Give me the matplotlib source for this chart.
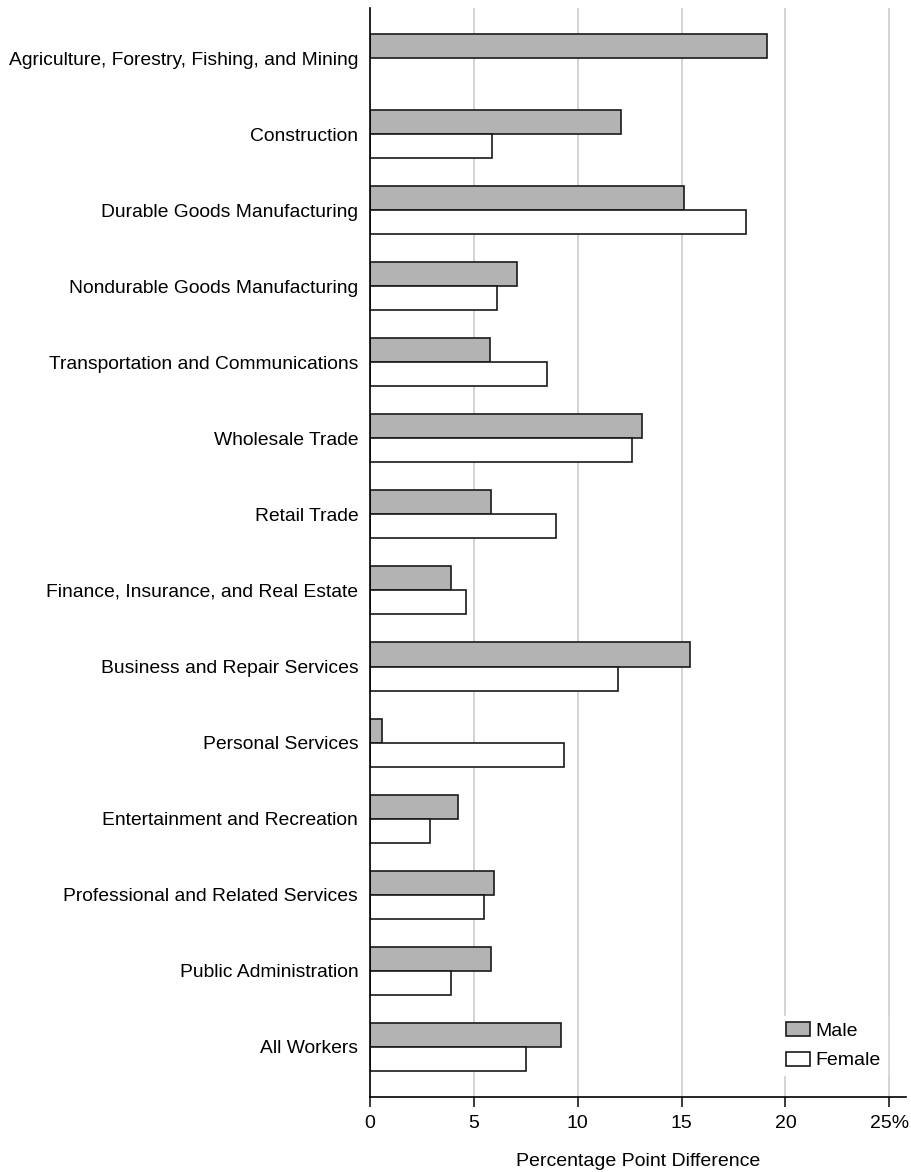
import matplotlib
matplotlib.use('Agg')
import matplotlib.pyplot as plt
import numpy as np
from matplotlib.patches import Patch

# Datos
industries = [
    'Agriculture, Forestry, Fishing, and Mining',
    'Construction',
    'Durable Goods Manufacturing',
    'Nondurable Goods Manufacturing',
    'Transportation and Communications',
    'Wholesale Trade',
    'Retail Trade',
    'Finance, Insurance, and Real Estate',
    'Business and Repair Services',
    'Personal Services',
    'Entertainment and Recreation',
    'Professional and Related Services',
    'Public Administration',
    'All Workers',
]
male = [19.12, 12.10, 15.13, 7.06, 5.78, 13.11, 5.81, 3.91, 15.42, 0.56, 4.26, 5.97, 5.82, 9.17]
female = [np.nan, 5.88, 18.08, 6.10, 8.53, 12.62, 8.95, 4.60, 11.96, 9.34, 2.91, 5.51, 3.89, 7.51]
xticks = [0, 5, 10, 15, 20, 25]
xtick_labels = ['0', '5', '10', '15', '20', '25%']

plt.rcParams['font.family'] = ['Liberation Sans', 'DejaVu Sans']

fig = plt.figure(figsize=(9.12, 11.72), dpi=100)
ax = fig.add_axes([0.4057, 0.064, 0.5877, 0.9293])

y = np.arange(len(industries))
h = 0.316
ax.barh(y - h / 2, male, height=h, color='#b3b3b3', edgecolor='#1a1a1a', linewidth=1.2, zorder=3)
ax.barh(y + h / 2, female, height=h, color='white', edgecolor='#1a1a1a', linewidth=1.2, zorder=3)

ax.set_ylim(len(industries) - 1 + 0.66, -0.66)
ax.set_xlim(0, 25.8)
ax.set_yticks(y)
ax.set_yticklabels(industries, fontsize=13.9)
ax.set_xticks(xticks)
ax.set_xticklabels(xtick_labels, fontsize=14)
ax.tick_params(axis='y', length=0, pad=8.5)
ax.tick_params(axis='x', length=7, width=1.2, pad=6, color='#1a1a1a')
ax.xaxis.grid(True, color='#cccccc', linewidth=1.2, zorder=0)
ax.set_axisbelow(True)
for s in ['top', 'right']:
    ax.spines[s].set_visible(False)
ax.spines['left'].set_linewidth(1.2)
ax.spines['bottom'].set_linewidth(1.2)
ax.spines['left'].set_zorder(4)
ax.set_xlabel('Percentage Point Difference', fontsize=14, labelpad=15)

handles = [Patch(facecolor='#b3b3b3', edgecolor='#1a1a1a', linewidth=1.2, label='Male'),
           Patch(facecolor='white', edgecolor='#1a1a1a', linewidth=1.2, label='Female')]
leg = ax.legend(handles=handles, loc='lower left', bbox_to_anchor=(0.765, 0.02),
                frameon=True, fontsize=14, handlelength=1.24, handleheight=0.72,
                handletextpad=0.3, labelspacing=0.62, borderpad=0.3, borderaxespad=0,
                fancybox=False)
leg.get_frame().set_edgecolor('white')
leg.get_frame().set_facecolor('white')
leg.get_frame().set_alpha(1)

fig.savefig('out.png', dpi=100)
